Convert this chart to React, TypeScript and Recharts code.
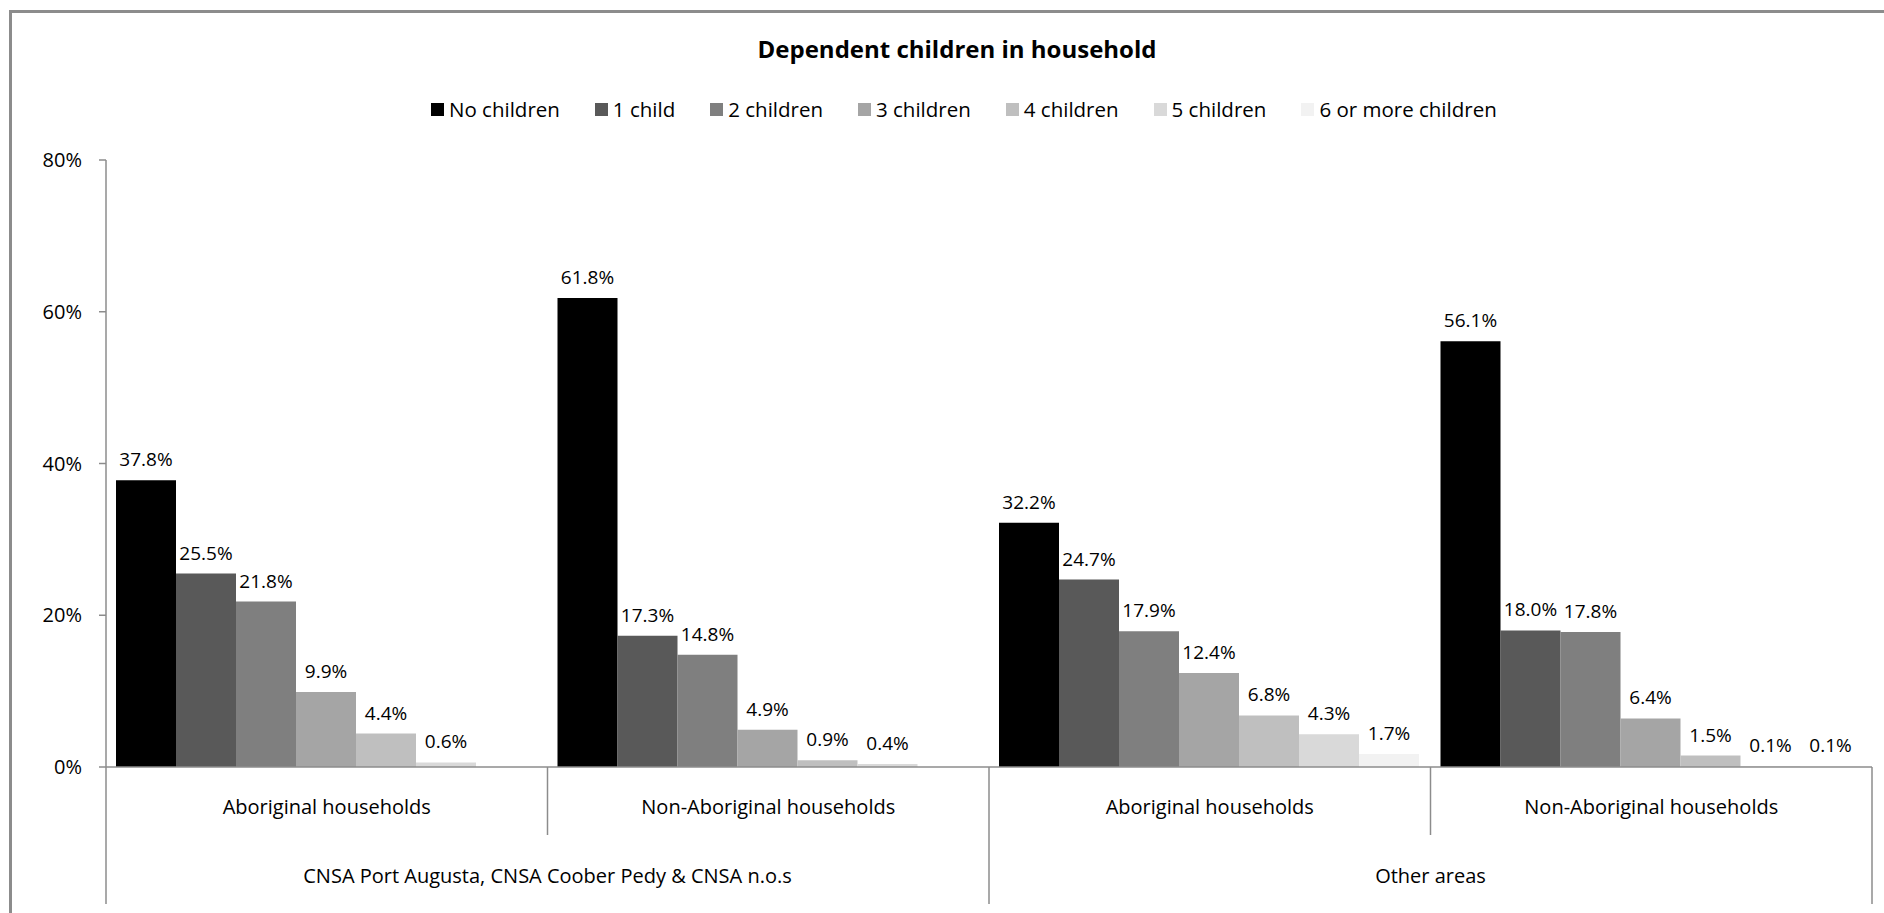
import React from 'react';
import { BarChart, Bar, XAxis, YAxis, Legend, LabelList } from 'recharts';

const groups = ['Aboriginal households', 'Non-Aboriginal households', 'Aboriginal households', 'Non-Aboriginal households'];
const areas = [
  'CNSA Port Augusta, CNSA Coober Pedy & CNSA n.o.s',
  'CNSA Port Augusta, CNSA Coober Pedy & CNSA n.o.s',
  'Other areas',
  'Other areas',
];

const seriesNames = ['No children', '1 child', '2 children', '3 children', '4 children', '5 children', '6 or more children'];
const seriesColors = ['#000000', '#595959', '#7f7f7f', '#a5a5a5', '#bfbfbf', '#d9d9d9', '#f2f2f2'];

const noChildren = [37.8, 61.8, 32.2, 56.1];
const oneChild = [25.5, 17.3, 24.7, 18.0];
const twoChildren = [21.8, 14.8, 17.9, 17.8];
const threeChildren = [9.9, 4.9, 12.4, 6.4];
const fourChildren = [4.4, 0.9, 6.8, 1.5];
const fiveChildren = [0.6, 0.4, 4.3, 0.1];
const sixPlusChildren = [null, null, 1.7, 0.1];

const yTicks = [0, 20, 40, 60, 80];

const allSeries = [noChildren, oneChild, twoChildren, threeChildren, fourChildren, fiveChildren, sixPlusChildren];

const data = groups.map((g, i) => {
  const row: any = { id: `${areas[i]}|${g}|${i}`, group: g, area: areas[i] };
  allSeries.forEach((s, k) => {
    row[`s${k}`] = s[i];
  });
  return row;
});

// layout
const W = 1884;
const H = 913;
const PLOT_LEFT = 106;
const PLOT_RIGHT = 1872;
const PLOT_TOP = 160;
const PLOT_BOTTOM = 767;
const ROW1_H = 68;
const ROW2_H = 69;
const Y_AXIS_W = 80;
const BAND = (PLOT_RIGHT - PLOT_LEFT) / groups.length;
const AREA_BAND = BAND * 2;
const LINE = '#8c8c8c';
const FONT = '"Open Sans", sans-serif';

const SubTick = (props: any) => {
  const { x, y, payload } = props;
  const idx = payload.index;
  return (
    <g>
      <line x1={x - BAND / 2} x2={x - BAND / 2} y1={y} y2={y + ROW1_H} stroke={LINE} strokeWidth={1.5} />
      {idx === groups.length - 1 && (
        <line x1={x + BAND / 2} x2={x + BAND / 2} y1={y} y2={y + ROW1_H} stroke={LINE} strokeWidth={1.5} />
      )}
      <text x={x} y={y + 39} textAnchor="middle" dominantBaseline="central" fontSize={20} fontFamily={FONT} fill="#000">
        {groups[idx]}
      </text>
    </g>
  );
};

const AreaTick = (props: any) => {
  const { x, y, payload, visibleTicksCount } = props;
  const last = payload.index === visibleTicksCount - 1;
  return (
    <g>
      <line x1={x - AREA_BAND / 2} x2={x - AREA_BAND / 2} y1={y} y2={y + ROW2_H} stroke={LINE} strokeWidth={1.5} />
      {last && (
        <line x1={x + AREA_BAND / 2} x2={x + AREA_BAND / 2} y1={y} y2={y + ROW2_H} stroke={LINE} strokeWidth={1.5} />
      )}
      <text x={x} y={y + 40} textAnchor="middle" dominantBaseline="central" fontSize={20} fontFamily={FONT} fill="#000">
        {payload.value}
      </text>
    </g>
  );
};

const LegendContent = () => (
  <div style={{ display: 'flex', alignItems: 'center', fontFamily: FONT, fontSize: 20.5, lineHeight: '20px', whiteSpace: 'nowrap' }}>
    {seriesNames.map((name, i) => (
      <div key={name} style={{ display: 'flex', alignItems: 'center', marginRight: i < seriesNames.length - 1 ? 35 : 0 }}>
        <span style={{ display: 'inline-block', width: 13, height: 13, background: seriesColors[i], marginRight: 5 }} />
        <span style={{ color: '#000' }}>{name}</span>
      </div>
    ))}
  </div>
);

const fmt = (v: any) => (v == null ? '' : `${Number(v).toFixed(1)}%`);

export default function App() {
  return (
    <div style={{ position: 'fixed', left: 0, top: 0, width: W, height: H, overflow: 'hidden', background: '#fff', fontFamily: FONT }}>
      <div style={{ position: 'absolute', left: 9, top: 10, width: 2000, height: 1000, border: `3px solid ${LINE}` }} />
      <div style={{ position: 'absolute', left: 0, top: 37, width: 1914, textAlign: 'center', fontSize: 24, lineHeight: '24px', fontWeight: 700, color: '#000' }}>
        Dependent children in household
      </div>
      <div style={{ position: 'absolute', left: 0, top: 0 }}>
        <BarChart
          width={W}
          height={H}
          data={data}
          margin={{ top: PLOT_TOP, right: W - PLOT_RIGHT, bottom: H - PLOT_BOTTOM - ROW1_H - ROW2_H, left: PLOT_LEFT - Y_AXIS_W }}
          barGap={0}
          barCategoryGap={10}
        >
          <XAxis
            xAxisId={0}
            dataKey="id"
            height={ROW1_H}
            interval={0}
            tickLine={false}
            tickSize={0}
            tickMargin={0}
            axisLine={{ stroke: LINE, strokeWidth: 1.5 }}
            tick={<SubTick />}
          />
          <XAxis
            xAxisId={1}
            dataKey="area"
            allowDuplicatedCategory={false}
            height={ROW2_H}
            interval={0}
            tickLine={false}
            tickSize={0}
            tickMargin={0}
            axisLine={false}
            tick={<AreaTick />}
          />
          <YAxis
            width={Y_AXIS_W}
            domain={[0, 80]}
            ticks={yTicks}
            interval={0}
            tickFormatter={(v: number) => `${v}%`}
            tickSize={7}
            tickMargin={17}
            axisLine={{ stroke: LINE, strokeWidth: 1.5 }}
            tickLine={{ stroke: LINE, strokeWidth: 1.5 }}
            tick={{ fill: '#000', fontSize: 20, fontFamily: FONT }}
          />
          <Legend
            layout="vertical"
            align="center"
            verticalAlign="middle"
            content={<LegendContent />}
            wrapperStyle={{ top: 99, left: 431, width: 1400, height: 22 }}
          />
          {seriesNames.map((name, k) => (
            <Bar key={name} xAxisId={0} dataKey={`s${k}`} name={name} fill={seriesColors[k]} isAnimationActive={false}>
              <LabelList dataKey={`s${k}`} position="top" offset={14} formatter={fmt} fontSize={19} fontFamily={FONT} fill="#000" />
            </Bar>
          ))}
        </BarChart>
      </div>
    </div>
  );
}
